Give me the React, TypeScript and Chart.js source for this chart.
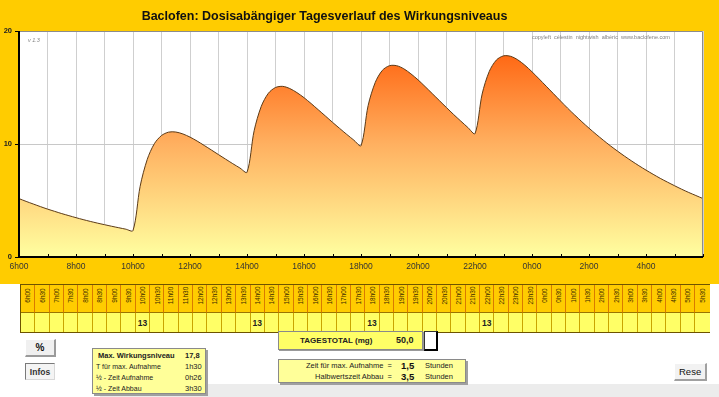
import React, { useEffect, useRef } from 'react';
import { Chart, registerables } from 'chart.js';

Chart.register(...registerables);

const FONT = 'Arial, "Liberation Sans", sans-serif';

const chartTitle = 'Baclofen: Dosisabängiger Tagesverlauf des Wirkungsniveaus';
const versionText = 'v 1.3';
const creditText = 'copyleft  célestin  nightwish  albéric  www.baclofene.com';

// 15-minute time slots, 6h00 -> 6h00 next day (categories)
const timeSlots: string[] = Array.from({ length: 97 }, (_, i) => {
  const m = i * 15;
  const h = (6 + Math.floor(m / 60)) % 24;
  const mm = m % 60;
  return `${h}h${mm < 10 ? '0' + mm : mm}`;
});

// Wirkungsniveau, one value per 15 minutes
const level: number[] = [
  5.17, 4.92, 4.69, 4.46, 4.24, 4.04, 3.84, 3.66, 3.48, 3.31, 3.15, 3.0, 2.86, 2.72, 2.59, 2.46, 2.34,
  6.25, 8.64, 10.03, 10.75, 11.05, 11.06, 10.89, 10.61, 10.26, 9.87, 9.47, 9.06, 8.66, 8.26, 7.88, 7.5,
  11.17, 13.33, 14.49, 15.0, 15.1, 14.91, 14.55, 14.1, 13.58, 13.03, 12.48, 11.92, 11.38, 10.85, 10.34, 9.85,
  13.4, 15.45, 16.52, 16.93, 16.93, 16.66, 16.21, 15.68, 15.08, 14.46, 13.84, 13.22, 12.61, 12.03, 11.46, 10.92,
  14.42, 16.42, 17.43, 17.8, 17.76, 17.45, 16.97, 16.39, 15.76, 15.11, 14.46, 13.81, 13.17, 12.56, 11.97, 11.4,
  10.86, 10.34, 9.84, 9.37, 8.92, 8.49, 8.08, 7.69, 7.32, 6.96, 6.63, 6.31, 6.0, 5.71, 5.44, 5.17,
];

const xTickLabels = ['6h00', '8h00', '10h00', '12h00', '14h00', '16h00', '18h00', '20h00', '22h00', '0h00', '2h00', '4h00'];
const yTicks = [0, 10, 20];

// Table below the chart (half-hour columns)
const tableSlots: string[] = Array.from({ length: 48 }, (_, i) => {
  const h = (6 + Math.floor(i / 2)) % 24;
  return `${h}h${i % 2 === 0 ? '00' : '30'}`;
});
const doseSlots = ['10h00', '14h00', '18h00', '22h00'];
const doseMg = [13, 13, 13, 13];

const infoLabels = ['Max. Wirkungsniveau', 'T für max. Aufnahme', '½ - Zeit Aufnahme', '½ - Zeit Abbau'];
const infoValues = ['17,8', '1h30', '0h26', '3h30'];
const tagesTotal = '50,0';
const paramLabels = ['Zeit für max. Aufnahme  =', 'Halbwertszeit Abbau  ='];
const paramValues = ['1,5', '3,5'];

const decorPlugin = {
  id: 'decor',
  beforeDraw(chart: any) {
    const { ctx, chartArea: a } = chart;
    ctx.save();
    ctx.fillStyle = '#FFCC00';
    ctx.fillRect(0, 0, chart.width, chart.height);
    ctx.fillStyle = '#FFFFFF';
    ctx.fillRect(a.left, a.top, a.right - a.left, a.bottom - a.top);
    ctx.restore();
  },
  afterDraw(chart: any) {
    const { ctx, chartArea: a, scales } = chart;
    const xs = scales.x;
    const ys = scales.y;
    ctx.save();
    ctx.strokeStyle = '#8c8c8c';
    ctx.lineWidth = 1;
    ctx.beginPath();
    ctx.moveTo(a.left, a.top + 0.5);
    ctx.lineTo(a.right - 0.5, a.top + 0.5);
    ctx.lineTo(a.right - 0.5, a.bottom);
    ctx.stroke();

    ctx.strokeStyle = '#000';
    ctx.lineWidth = 2;
    ctx.beginPath();
    ctx.moveTo(a.left, a.top);
    ctx.lineTo(a.left, a.bottom);
    ctx.lineTo(a.right, a.bottom);
    ctx.stroke();

    ctx.lineWidth = 1;
    ctx.beginPath();
    for (let i = 0; i < timeSlots.length; i += 4) {
      const x = Math.round(xs.getPixelForValue(i)) + 0.5;
      ctx.moveTo(x, a.bottom - 3);
      ctx.lineTo(x, a.bottom);
    }
    for (const v of yTicks) {
      const y = Math.round(ys.getPixelForValue(v)) + 0.5;
      ctx.moveTo(a.left - 4, y);
      ctx.lineTo(a.left, y);
    }
    ctx.stroke();

    ctx.fillStyle = '#111';
    ctx.font = `bold 12.5px ${FONT}`;
    ctx.textAlign = 'center';
    ctx.textBaseline = 'alphabetic';
    ctx.fillText(chartTitle, 324.5, 19.5);

    ctx.fillStyle = '#808080';
    ctx.textAlign = 'left';
    ctx.font = `italic 5.5px ${FONT}`;
    ctx.fillText(versionText, 28, 41.5);
    ctx.font = `5.5px ${FONT}`;
    ctx.fillText(creditText, 532, 39);
    ctx.restore();
  },
};

function ChartCanvas() {
  const ref = useRef<HTMLCanvasElement>(null);
  useEffect(() => {
    const chart = new Chart(ref.current as HTMLCanvasElement, {
      type: 'line',
      data: {
        labels: timeSlots,
        datasets: [
          {
            data: level,
            borderColor: '#5b3a17',
            borderWidth: 1,
            pointRadius: 0,
            tension: 0.3,
            fill: 'origin',
            backgroundColor: (c: any) => {
              const { chart } = c;
              const area = chart.chartArea;
              if (!area) return '#FFB060';
              const g = chart.ctx.createLinearGradient(0, area.top, 0, area.bottom);
              g.addColorStop(0, '#FF5500');
              g.addColorStop(0.5, '#FFB060');
              g.addColorStop(1, '#FFFFA0');
              return g;
            },
          },
        ],
      },
      options: {
        responsive: false,
        animation: false,
        layout: { padding: { top: 31, right: 16, left: 0, bottom: 0 } },
        plugins: {
          legend: { display: false },
          tooltip: { enabled: false },
          title: { display: false },
        },
        scales: {
          x: {
            type: 'category',
            offset: false,
            border: { display: false },
            grid: {
              drawTicks: false,
              lineWidth: 1,
              color: (c: any) => (c.index % 4 === 0 ? '#cfcfcf' : 'rgba(0,0,0,0)'),
            },
            ticks: {
              autoSkip: false,
              maxRotation: 0,
              minRotation: 0,
              padding: 5,
              color: '#333',
              font: { family: FONT, size: 8.5 },
              callback: (_v: any, i: number) =>
                i % 8 === 0 && i / 8 < xTickLabels.length ? xTickLabels[i / 8] : '',
            },
            afterFit: (s: any) => {
              s.height = 27;
            },
          },
          y: {
            min: 0,
            max: 20,
            border: { display: false },
            grid: {
              drawTicks: false,
              color: (c: any) => (c.tick && c.tick.value === 10 ? '#c8c8c8' : 'rgba(0,0,0,0)'),
            },
            ticks: {
              stepSize: 10,
              padding: 7,
              color: '#222',
              font: { family: FONT, size: 7.5, weight: 'bold' },
            },
            afterFit: (s: any) => {
              s.width = 19;
            },
          },
        },
      } as any,
      plugins: [decorPlugin],
    });
    return () => chart.destroy();
  }, []);
  return <canvas ref={ref} width={719} height={284} style={{ position: 'absolute', left: 0, top: 0 }} />;
}

const CELL_W = 688.5 / 48;

export default function App() {
  return (
    <div
      style={{
        position: 'absolute',
        left: 0,
        top: 0,
        width: 719,
        height: 397,
        background: '#FFFFFF',
        overflow: 'hidden',
        fontFamily: FONT,
        color: '#111',
      }}
    >
      <ChartCanvas />

      {/* time table */}
      <div
        style={{
          position: 'absolute',
          left: 20,
          top: 284,
          width: 690,
          height: 49,
          border: '1px solid #6e5400',
          boxSizing: 'border-box',
          background: '#FFCC00',
        }}
      >
        {tableSlots.map((t, i) => {
          const di = doseSlots.indexOf(t);
          return (
            <React.Fragment key={t + i}>
              <div
                style={{
                  position: 'absolute',
                  left: i * CELL_W,
                  top: 0,
                  width: CELL_W,
                  height: 28,
                  boxSizing: 'border-box',
                  borderRight: i < 47 ? '1px solid #d97a00' : 'none',
                  borderBottom: '1px solid #9a7400',
                  background: '#FFCC00',
                }}
              >
                <div
                  style={{
                    position: 'absolute',
                    left: 0,
                    top: 2,
                    width: '100%',
                    height: 16,
                    display: 'flex',
                    alignItems: 'center',
                    justifyContent: 'center',
                  }}
                >
                  <span
                    style={{
                      display: 'inline-block',
                      transform: 'rotate(-90deg)',
                      fontSize: 6.5,
                      whiteSpace: 'nowrap',
                      color: '#3a2a00',
                    }}
                  >
                    {t}
                  </span>
                </div>
              </div>
              <div
                style={{
                  position: 'absolute',
                  left: i * CELL_W,
                  top: 28,
                  width: CELL_W,
                  height: 19,
                  boxSizing: 'border-box',
                  borderRight: i < 47 ? '1px solid #c9a400' : 'none',
                  background: '#FFFF66',
                  display: 'flex',
                  alignItems: 'center',
                  justifyContent: 'center',
                  fontSize: 8.5,
                  fontWeight: 'bold',
                  color: '#222',
                }}
              >
                {di >= 0 ? String(doseMg[di]) : ''}
              </div>
            </React.Fragment>
          );
        })}
      </div>

      {/* bottom gray strip */}
      <div style={{ position: 'absolute', left: 100, top: 384, width: 619, height: 13, background: '#ECECEC' }} />

      {/* % button */}
      <div
        style={{
          position: 'absolute',
          left: 25,
          top: 339,
          width: 31,
          height: 18,
          boxSizing: 'border-box',
          background: '#F0F0F0',
          borderTop: '1px solid #ffffff',
          borderLeft: '1px solid #ffffff',
          borderRight: '2px solid #9a9a9a',
          borderBottom: '2px solid #9a9a9a',
          display: 'flex',
          alignItems: 'center',
          justifyContent: 'center',
          fontSize: 10,
          fontWeight: 'bold',
        }}
      >
        %
      </div>

      {/* Infos button */}
      <div
        style={{
          position: 'absolute',
          left: 25,
          top: 363,
          width: 30,
          height: 17,
          boxSizing: 'border-box',
          background: '#F4F4F4',
          borderTop: '1px solid #7a7a7a',
          borderLeft: '1px solid #7a7a7a',
          borderRight: '1px solid #d8d8d8',
          borderBottom: '1px solid #d8d8d8',
          display: 'flex',
          alignItems: 'center',
          justifyContent: 'center',
          fontSize: 8.5,
          fontWeight: 'bold',
          color: '#333',
        }}
      >
        Infos
      </div>

      {/* info box */}
      <div
        style={{
          position: 'absolute',
          left: 92,
          top: 348,
          width: 114,
          height: 46,
          boxSizing: 'border-box',
          background: '#FFFF99',
          border: '1px solid #8a8a8a',
          boxShadow: '2px 2px 0 #a0a0a0',
        }}
      >
        {infoLabels.map((lab, i) => (
          <React.Fragment key={lab}>
            <div
              style={{
                position: 'absolute',
                left: i === 0 ? 5 : 3,
                top: 1 + i * 11,
                height: 11,
                lineHeight: '11px',
                fontSize: i === 0 ? 7.5 : 7,
                fontWeight: i === 0 ? 'bold' : 'normal',
                whiteSpace: 'nowrap',
                color: '#222',
              }}
            >
              {lab}
            </div>
            <div
              style={{
                position: 'absolute',
                left: 92,
                top: 1 + i * 11,
                height: 11,
                lineHeight: '11px',
                fontSize: 7.5,
                fontWeight: i === 0 ? 'bold' : 'normal',
                whiteSpace: 'nowrap',
                color: '#222',
              }}
            >
              {infoValues[i]}
            </div>
          </React.Fragment>
        ))}
      </div>

      {/* TAGESTOTAL */}
      <div
        style={{
          position: 'absolute',
          left: 278,
          top: 331,
          width: 145,
          height: 19,
          boxSizing: 'border-box',
          background: '#FFFF66',
          border: '1px solid #8a8a8a',
          boxShadow: '1px 1px 0 #9a9a9a',
        }}
      >
        <div
          style={{
            position: 'absolute',
            left: 21,
            top: 0,
            height: 17,
            lineHeight: '17px',
            fontSize: 8,
            fontWeight: 'bold',
            whiteSpace: 'nowrap',
            color: '#222',
          }}
        >
          TAGESTOTAL (mg)
        </div>
        <div
          style={{
            position: 'absolute',
            left: 117,
            top: 0,
            height: 17,
            lineHeight: '17px',
            fontSize: 9,
            fontWeight: 'bold',
            whiteSpace: 'nowrap',
            color: '#222',
          }}
        >
          {tagesTotal}
        </div>
      </div>

      {/* selected cell */}
      <div
        style={{
          position: 'absolute',
          left: 424,
          top: 331,
          width: 14,
          height: 20,
          boxSizing: 'border-box',
          background: '#FFFFFF',
          borderTop: '1px solid #333',
          borderLeft: '1px solid #333',
          borderRight: '2px solid #000',
          borderBottom: '2px solid #000',
        }}
      />

      {/* parameter box */}
      <div
        style={{
          position: 'absolute',
          left: 278,
          top: 359,
          width: 188,
          height: 24,
          boxSizing: 'border-box',
          background: '#FFFF99',
          border: '1px solid #8a8a8a',
          boxShadow: '2px 2px 0 #a0a0a0',
        }}
      >
        {paramLabels.map((lab, i) => (
          <React.Fragment key={lab}>
            <div
              style={{
                position: 'absolute',
                right: 188 - 115,
                top: i * 11,
                height: 11,
                lineHeight: '11px',
                fontSize: 7.5,
                whiteSpace: 'pre',
                color: '#222',
              }}
            >
              {lab}
            </div>
            <div
              style={{
                position: 'absolute',
                left: 122,
                top: i * 11,
                height: 11,
                lineHeight: '11px',
                fontSize: 9.5,
                fontWeight: 'bold',
                whiteSpace: 'nowrap',
                color: '#111',
              }}
            >
              {paramValues[i]}
            </div>
            <div
              style={{
                position: 'absolute',
                left: 146,
                top: i * 11,
                height: 11,
                lineHeight: '11px',
                fontSize: 7.5,
                whiteSpace: 'nowrap',
                color: '#222',
              }}
            >
              Stunden
            </div>
          </React.Fragment>
        ))}
      </div>

      {/* Rese(t) button */}
      <div
        style={{
          position: 'absolute',
          left: 674,
          top: 363,
          width: 33,
          height: 18,
          boxSizing: 'border-box',
          background: '#F2F2F2',
          borderTop: '1px solid #ffffff',
          borderLeft: '1px solid #ffffff',
          borderRight: '2px solid #a0a0a0',
          borderBottom: '2px solid #a0a0a0',
          fontSize: 9.5,
          lineHeight: '15px',
          paddingLeft: 4,
          whiteSpace: 'nowrap',
          overflow: 'hidden',
          color: '#111',
        }}
      >
        Rese
      </div>
    </div>
  );
}
